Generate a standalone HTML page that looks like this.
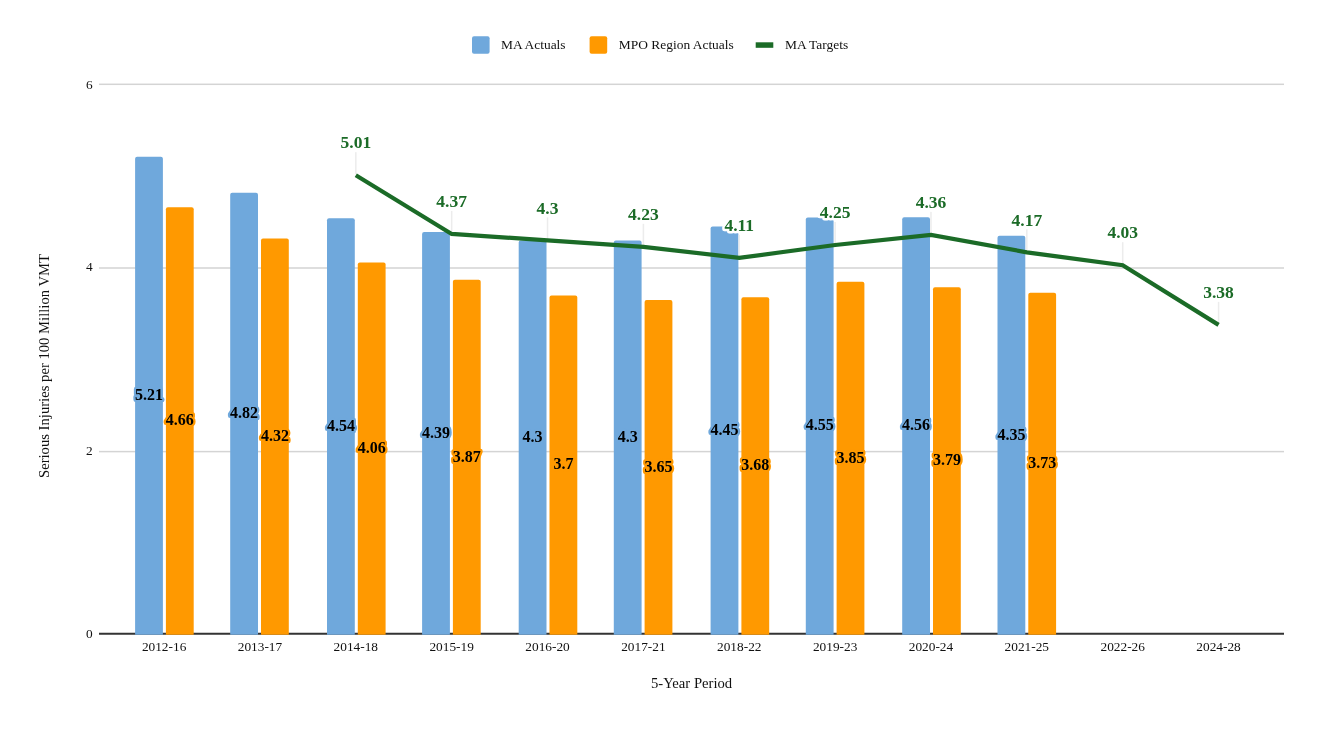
<!DOCTYPE html>
<html lang="en"><head><meta charset="utf-8"><title>Serious Injuries per 100 Million VMT</title>
<style>html,body{margin:0;padding:0;background:#fff}body{width:1320px;height:730px;overflow:hidden}svg{display:block}</style></head>
<body>
<svg width="1320" height="730" viewBox="0 0 1320 730" font-family="'Liberation Serif', serif">
<rect width="1320" height="730" fill="#fff"/>
<rect x="472" y="36.2" width="17.6" height="17.6" rx="2" fill="#6fa8dc"/>
<text x="501" y="48.8" font-size="13.45" class="t" fill="#111">MA Actuals</text>
<rect x="589.6" y="36.2" width="17.6" height="17.6" rx="2" fill="#ff9900"/>
<text x="618.8" y="48.8" font-size="13.45" class="t" fill="#111">MPO Region Actuals</text>
<rect x="755.7" y="42.3" width="17.6" height="5.5" fill="#1b6b27"/>
<text x="785" y="48.8" font-size="13.45" class="t" fill="#111">MA Targets</text>
<rect x="99.0" y="450.85" width="1185.0" height="1.5" fill="#d4d4d4"/>
<rect x="99.0" y="267.25" width="1185.0" height="1.5" fill="#d4d4d4"/>
<rect x="99.0" y="83.55" width="1185.0" height="1.5" fill="#d4d4d4"/>
<text x="92.6" y="637.50" font-size="13.33" class="t" fill="#111" text-anchor="end">0</text>
<text x="92.6" y="455.00" font-size="13.33" class="t" fill="#111" text-anchor="end">2</text>
<text x="92.6" y="271.30" font-size="13.33" class="t" fill="#111" text-anchor="end">4</text>
<text x="92.6" y="88.50" font-size="13.33" class="t" fill="#111" text-anchor="end">6</text>
<rect x="99.0" y="632.75" width="1185.0" height="2" fill="#333333"/>
<path d="M135.10 634.7 V158.82 Q135.10 156.82 137.10 156.82 H160.90 Q162.90 156.82 162.90 158.82 V634.7 Z" fill="#6fa8dc"/>
<path d="M165.90 634.7 V209.32 Q165.90 207.32 167.90 207.32 H191.70 Q193.70 207.32 193.70 209.32 V634.7 Z" fill="#ff9900"/>
<path d="M230.20 634.7 V194.63 Q230.20 192.63 232.20 192.63 H256.00 Q258.00 192.63 258.00 194.63 V634.7 Z" fill="#6fa8dc"/>
<path d="M261.00 634.7 V240.54 Q261.00 238.54 263.00 238.54 H286.80 Q288.80 238.54 288.80 240.54 V634.7 Z" fill="#ff9900"/>
<path d="M327.00 634.7 V220.34 Q327.00 218.34 329.00 218.34 H352.80 Q354.80 218.34 354.80 220.34 V634.7 Z" fill="#6fa8dc"/>
<path d="M357.80 634.7 V264.42 Q357.80 262.42 359.80 262.42 H383.60 Q385.60 262.42 385.60 264.42 V634.7 Z" fill="#ff9900"/>
<path d="M422.10 634.7 V234.12 Q422.10 232.12 424.10 232.12 H447.90 Q449.90 232.12 449.90 234.12 V634.7 Z" fill="#6fa8dc"/>
<path d="M452.90 634.7 V281.87 Q452.90 279.87 454.90 279.87 H478.70 Q480.70 279.87 480.70 281.87 V634.7 Z" fill="#ff9900"/>
<path d="M518.70 634.7 V242.38 Q518.70 240.38 520.70 240.38 H544.50 Q546.50 240.38 546.50 242.38 V634.7 Z" fill="#6fa8dc"/>
<path d="M549.50 634.7 V297.48 Q549.50 295.48 551.50 295.48 H575.30 Q577.30 295.48 577.30 297.48 V634.7 Z" fill="#ff9900"/>
<path d="M613.80 634.7 V242.38 Q613.80 240.38 615.80 240.38 H639.60 Q641.60 240.38 641.60 242.38 V634.7 Z" fill="#6fa8dc"/>
<path d="M644.60 634.7 V302.07 Q644.60 300.07 646.60 300.07 H670.40 Q672.40 300.07 672.40 302.07 V634.7 Z" fill="#ff9900"/>
<path d="M710.60 634.7 V228.61 Q710.60 226.61 712.60 226.61 H736.40 Q738.40 226.61 738.40 228.61 V634.7 Z" fill="#6fa8dc"/>
<path d="M741.40 634.7 V299.32 Q741.40 297.32 743.40 297.32 H767.20 Q769.20 297.32 769.20 299.32 V634.7 Z" fill="#ff9900"/>
<path d="M805.80 634.7 V219.42 Q805.80 217.42 807.80 217.42 H831.60 Q833.60 217.42 833.60 219.42 V634.7 Z" fill="#6fa8dc"/>
<path d="M836.60 634.7 V283.70 Q836.60 281.70 838.60 281.70 H862.40 Q864.40 281.70 864.40 283.70 V634.7 Z" fill="#ff9900"/>
<path d="M902.20 634.7 V219.20 Q902.20 217.20 904.20 217.20 H928.00 Q930.00 217.20 930.00 219.20 V634.7 Z" fill="#6fa8dc"/>
<path d="M933.00 634.7 V289.21 Q933.00 287.21 935.00 287.21 H958.80 Q960.80 287.21 960.80 289.21 V634.7 Z" fill="#ff9900"/>
<path d="M997.50 634.7 V237.79 Q997.50 235.79 999.50 235.79 H1023.30 Q1025.30 235.79 1025.30 237.79 V634.7 Z" fill="#6fa8dc"/>
<path d="M1028.30 634.7 V294.72 Q1028.30 292.72 1030.30 292.72 H1054.10 Q1056.10 292.72 1056.10 294.72 V634.7 Z" fill="#ff9900"/>
<text x="164.10" y="651.0" font-size="13.33" class="t" fill="#111" text-anchor="middle">2012-16</text>
<text x="259.96" y="651.0" font-size="13.33" class="t" fill="#111" text-anchor="middle">2013-17</text>
<text x="355.82" y="651.0" font-size="13.33" class="t" fill="#111" text-anchor="middle">2014-18</text>
<text x="451.68" y="651.0" font-size="13.33" class="t" fill="#111" text-anchor="middle">2015-19</text>
<text x="547.54" y="651.0" font-size="13.33" class="t" fill="#111" text-anchor="middle">2016-20</text>
<text x="643.40" y="651.0" font-size="13.33" class="t" fill="#111" text-anchor="middle">2017-21</text>
<text x="739.26" y="651.0" font-size="13.33" class="t" fill="#111" text-anchor="middle">2018-22</text>
<text x="835.12" y="651.0" font-size="13.33" class="t" fill="#111" text-anchor="middle">2019-23</text>
<text x="930.98" y="651.0" font-size="13.33" class="t" fill="#111" text-anchor="middle">2020-24</text>
<text x="1026.84" y="651.0" font-size="13.33" class="t" fill="#111" text-anchor="middle">2021-25</text>
<text x="1122.70" y="651.0" font-size="13.33" class="t" fill="#111" text-anchor="middle">2022-26</text>
<text x="1218.56" y="651.0" font-size="13.33" class="t" fill="#111" text-anchor="middle">2024-28</text>
<text x="691.6" y="687.7" font-size="14.67" class="t" fill="#111" text-anchor="middle">5-Year Period</text>
<text transform="translate(48.8 366) rotate(-90)" font-size="14.67" class="t" fill="#111" text-anchor="middle">Serious Injuries per 100 Million VMT</text>
<rect x="355.07" y="152.18" width="1.5" height="22" fill="#ececec"/>
<rect x="450.93" y="210.95" width="1.5" height="22" fill="#ececec"/>
<rect x="546.79" y="217.38" width="1.5" height="22" fill="#ececec"/>
<rect x="642.65" y="223.81" width="1.5" height="22" fill="#ececec"/>
<rect x="738.51" y="234.83" width="1.5" height="22" fill="#ececec"/>
<rect x="834.37" y="221.97" width="1.5" height="22" fill="#ececec"/>
<rect x="930.23" y="211.87" width="1.5" height="22" fill="#ececec"/>
<rect x="1026.09" y="229.32" width="1.5" height="22" fill="#ececec"/>
<rect x="1121.95" y="242.18" width="1.5" height="22" fill="#ececec"/>
<rect x="1217.81" y="301.86" width="1.5" height="22" fill="#ececec"/>
<polyline points="355.82,175.18 451.68,233.95 547.54,240.38 643.40,246.81 739.26,257.83 835.12,244.97 930.98,234.87 1026.84,252.32 1122.70,265.18 1218.56,324.86" fill="none" stroke="#1b6b27" stroke-width="4.2" stroke-linejoin="miter"/>
<text x="149.00" y="400.16" font-size="16" font-weight="bold" text-anchor="middle" fill="#000" stroke="#6fa8dc" stroke-width="4.6" stroke-linejoin="round" paint-order="stroke">5.21</text>
<text x="179.80" y="425.41" font-size="16" font-weight="bold" text-anchor="middle" fill="#000" stroke="#ff9900" stroke-width="4.6" stroke-linejoin="round" paint-order="stroke">4.66</text>
<text x="244.10" y="418.06" font-size="16" font-weight="bold" text-anchor="middle" fill="#000" stroke="#6fa8dc" stroke-width="4.6" stroke-linejoin="round" paint-order="stroke">4.82</text>
<text x="274.90" y="441.02" font-size="16" font-weight="bold" text-anchor="middle" fill="#000" stroke="#ff9900" stroke-width="4.6" stroke-linejoin="round" paint-order="stroke">4.32</text>
<text x="340.90" y="430.92" font-size="16" font-weight="bold" text-anchor="middle" fill="#000" stroke="#6fa8dc" stroke-width="4.6" stroke-linejoin="round" paint-order="stroke">4.54</text>
<text x="371.70" y="452.96" font-size="16" font-weight="bold" text-anchor="middle" fill="#000" stroke="#ff9900" stroke-width="4.6" stroke-linejoin="round" paint-order="stroke">4.06</text>
<text x="436.00" y="437.81" font-size="16" font-weight="bold" text-anchor="middle" fill="#000" stroke="#6fa8dc" stroke-width="4.6" stroke-linejoin="round" paint-order="stroke">4.39</text>
<text x="466.80" y="461.68" font-size="16" font-weight="bold" text-anchor="middle" fill="#000" stroke="#ff9900" stroke-width="4.6" stroke-linejoin="round" paint-order="stroke">3.87</text>
<text x="532.60" y="441.94" font-size="16" font-weight="bold" text-anchor="middle" fill="#000" stroke="#6fa8dc" stroke-width="4.6" stroke-linejoin="round" paint-order="stroke">4.3</text>
<text x="563.40" y="469.49" font-size="16" font-weight="bold" text-anchor="middle" fill="#000" stroke="#ff9900" stroke-width="4.6" stroke-linejoin="round" paint-order="stroke">3.7</text>
<text x="627.70" y="441.94" font-size="16" font-weight="bold" text-anchor="middle" fill="#000" stroke="#6fa8dc" stroke-width="4.6" stroke-linejoin="round" paint-order="stroke">4.3</text>
<text x="658.50" y="471.79" font-size="16" font-weight="bold" text-anchor="middle" fill="#000" stroke="#ff9900" stroke-width="4.6" stroke-linejoin="round" paint-order="stroke">3.65</text>
<text x="724.50" y="435.05" font-size="16" font-weight="bold" text-anchor="middle" fill="#000" stroke="#6fa8dc" stroke-width="4.6" stroke-linejoin="round" paint-order="stroke">4.45</text>
<text x="755.30" y="470.41" font-size="16" font-weight="bold" text-anchor="middle" fill="#000" stroke="#ff9900" stroke-width="4.6" stroke-linejoin="round" paint-order="stroke">3.68</text>
<text x="819.70" y="430.46" font-size="16" font-weight="bold" text-anchor="middle" fill="#000" stroke="#6fa8dc" stroke-width="4.6" stroke-linejoin="round" paint-order="stroke">4.55</text>
<text x="850.50" y="462.60" font-size="16" font-weight="bold" text-anchor="middle" fill="#000" stroke="#ff9900" stroke-width="4.6" stroke-linejoin="round" paint-order="stroke">3.85</text>
<text x="916.10" y="430.00" font-size="16" font-weight="bold" text-anchor="middle" fill="#000" stroke="#6fa8dc" stroke-width="4.6" stroke-linejoin="round" paint-order="stroke">4.56</text>
<text x="946.90" y="465.36" font-size="16" font-weight="bold" text-anchor="middle" fill="#000" stroke="#ff9900" stroke-width="4.6" stroke-linejoin="round" paint-order="stroke">3.79</text>
<text x="1011.40" y="439.64" font-size="16" font-weight="bold" text-anchor="middle" fill="#000" stroke="#6fa8dc" stroke-width="4.6" stroke-linejoin="round" paint-order="stroke">4.35</text>
<text x="1042.20" y="468.11" font-size="16" font-weight="bold" text-anchor="middle" fill="#000" stroke="#ff9900" stroke-width="4.6" stroke-linejoin="round" paint-order="stroke">3.73</text>
<text x="355.82" y="148.38" font-size="17.5" font-weight="bold" text-anchor="middle" fill="#1b6b27" stroke="#fff" stroke-width="5" stroke-linejoin="round" paint-order="stroke">5.01</text>
<text x="451.68" y="207.15" font-size="17.5" font-weight="bold" text-anchor="middle" fill="#1b6b27" stroke="#fff" stroke-width="5" stroke-linejoin="round" paint-order="stroke">4.37</text>
<text x="547.54" y="213.58" font-size="17.5" font-weight="bold" text-anchor="middle" fill="#1b6b27" stroke="#fff" stroke-width="5" stroke-linejoin="round" paint-order="stroke">4.3</text>
<text x="643.40" y="220.01" font-size="17.5" font-weight="bold" text-anchor="middle" fill="#1b6b27" stroke="#fff" stroke-width="5" stroke-linejoin="round" paint-order="stroke">4.23</text>
<text x="739.26" y="231.03" font-size="17.5" font-weight="bold" text-anchor="middle" fill="#1b6b27" stroke="#fff" stroke-width="5" stroke-linejoin="round" paint-order="stroke">4.11</text>
<text x="835.12" y="218.17" font-size="17.5" font-weight="bold" text-anchor="middle" fill="#1b6b27" stroke="#fff" stroke-width="5" stroke-linejoin="round" paint-order="stroke">4.25</text>
<text x="930.98" y="208.07" font-size="17.5" font-weight="bold" text-anchor="middle" fill="#1b6b27" stroke="#fff" stroke-width="5" stroke-linejoin="round" paint-order="stroke">4.36</text>
<text x="1026.84" y="225.52" font-size="17.5" font-weight="bold" text-anchor="middle" fill="#1b6b27" stroke="#fff" stroke-width="5" stroke-linejoin="round" paint-order="stroke">4.17</text>
<text x="1122.70" y="238.38" font-size="17.5" font-weight="bold" text-anchor="middle" fill="#1b6b27" stroke="#fff" stroke-width="5" stroke-linejoin="round" paint-order="stroke">4.03</text>
<text x="1218.56" y="298.06" font-size="17.5" font-weight="bold" text-anchor="middle" fill="#1b6b27" stroke="#fff" stroke-width="5" stroke-linejoin="round" paint-order="stroke">3.38</text>
</svg>
</body></html>
